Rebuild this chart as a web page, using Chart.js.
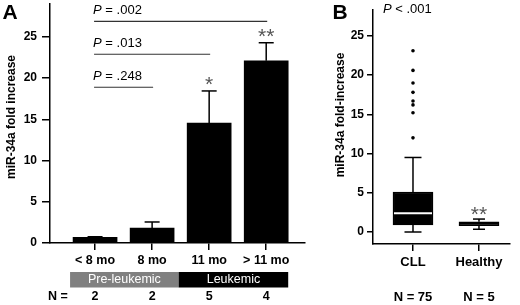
<!DOCTYPE html>
<html>
<head>
<meta charset="utf-8">
<script src="https://cdn.jsdelivr.net/npm/chart.js@4.4.1/dist/chart.umd.min.js"></script>
<style>
  body { margin: 0; background: #fff; width: 520px; height: 305px; overflow: hidden; position: relative; }
  canvas { position: absolute; top: 0; }
  #chartA { left: 0; }
  #chartB { left: 320px; }
</style>
</head>
<body>
<canvas id="chartA" width="320" height="305"></canvas>
<canvas id="chartB" width="200" height="305"></canvas>
<script>
// === Panel A data: miR-34a by age ===
const ageGroups = ["< 8 mo", "8 mo", "11 mo", "> 11 mo"];
const foldMean = [0.68, 1.82, 14.55, 22.1];
const foldErr = [0.08, 0.73, 3.9, 2.2];
const groupN = [2, 2, 5, 4];
const groupStars = ["", "", "*", "**"];
const stageLabels = ["Pre-leukemic", "Leukemic"];
const pCompareTo = [1, 2, 3];
const pValues = [".248", ".013", ".002"];
const pLineY = [18.9, 22.9, 26.9];
const yTicksA = [0, 5, 10, 15, 20, 25];

// === Panel B data: CLL vs healthy ===
const cohorts = ["CLL", "Healthy"];
const boxQ1 = [0.9, 0.8];
const boxMedian = [2.4, 1.05];
const boxQ3 = [5.1, 1.3];
const whiskerLow = [0, 0.35];
const whiskerHigh = [9.5, 1.65];
const cllOutliers = [23.1, 20.6, 19.0, 17.8, 16.7, 16.2, 15.2, 12.0];
const cohortN = [75, 5];
const cohortStars = ["", "**"];
const yTicksB = [0, 5, 10, 15, 20, 25];

const FONT = "'Liberation Sans', Arial, sans-serif";

// === small drawing helpers ===
function seg(ctx, x1, y1, x2, y2) {
  ctx.beginPath();
  ctx.moveTo(x1, y1);
  ctx.lineTo(x2, y2);
  ctx.stroke();
}

function txt(ctx, s, x, y, font, color, align) {
  ctx.font = font;
  ctx.fillStyle = color || "#000";
  ctx.textAlign = align || "center";
  ctx.textBaseline = "middle";
  ctx.fillText(s, x, y);
}

// asterisks sit high in the em box, so draw them from the baseline
function stars(ctx, s, x, yCenter) {
  ctx.font = "21px " + FONT;
  ctx.fillStyle = "#555";
  ctx.textAlign = "center";
  ctx.textBaseline = "alphabetic";
  ctx.fillText(s, x, yCenter + 12);
}

function vTitle(ctx, s, x, y) {
  ctx.save();
  ctx.translate(x, y);
  ctx.rotate(-Math.PI / 2);
  txt(ctx, s, 0, 0, "bold 12px " + FONT);
  ctx.restore();
}

function pLabel(ctx, op, val, x, y) {
  ctx.font = "italic 13px " + FONT;
  ctx.fillStyle = "#000";
  ctx.textAlign = "left";
  ctx.textBaseline = "middle";
  ctx.fillText("P", x, y);
  const w = ctx.measureText("P").width;
  ctx.font = "13px " + FONT;
  ctx.fillText(" " + op + " " + val, x + w, y);
}

function axisOpts(extra) {
  return Object.assign({
    offset: false,
    grid: { drawOnChartArea: false, offset: false, color: "#000", lineWidth: 1.5, tickLength: 7 },
    border: { color: "#000", width: 1.5 },
    ticks: { color: "#000", autoSkip: false, maxRotation: 0, padding: 4 },
  }, extra);
}

// === Panel A annotations ===
const panelA = {
  id: "panelA",
  afterDatasetsDraw(chart) {
    const ctx = chart.ctx, x = chart.scales.x, y = chart.scales.y;
    ctx.save();
    ctx.strokeStyle = "#000";
    ctx.lineWidth = 1.5;
    foldMean.forEach((m, i) => {
      const px = x.getPixelForValue(i);
      const top = y.getPixelForValue(m + foldErr[i]);
      seg(ctx, px, y.getPixelForValue(m), px, top);
      seg(ctx, px - 7.5, top, px + 7.5, top);
      if (groupStars[i]) stars(ctx, groupStars[i], px, top - 12);
    });

    // significance brackets
    ctx.lineWidth = 1.2;
    ctx.strokeStyle = "#333";
    pCompareTo.forEach((j, k) => {
      const ly = y.getPixelForValue(pLineY[k]);
      const x0 = x.getPixelForValue(0) - 1;
      seg(ctx, x0, ly, x.getPixelForValue(j) + 1, ly);
      pLabel(ctx, "=", pValues[k], x0 - 1, ly - 11);
    });

    // stage band below the axis
    const bLeft = x.getPixelForValue(0) - 25;
    const bMid = (x.getPixelForValue(1) + x.getPixelForValue(2)) / 2 - 2;
    const bRight = x.getPixelForValue(3) + 22;
    ctx.fillStyle = "#808080";
    ctx.fillRect(bLeft, 272, bMid - bLeft, 15.5);
    ctx.fillStyle = "#000";
    ctx.fillRect(bMid, 272, bRight - bMid, 15.5);
    txt(ctx, stageLabels[0], (bLeft + bMid) / 2, 280, "12.5px " + FONT, "#fff");
    txt(ctx, stageLabels[1], (bMid + bRight) / 2, 280, "12.5px " + FONT, "#fff");

    // N row
    txt(ctx, "N =", 58, 297, "bold 12.5px " + FONT);
    groupN.forEach((n, i) => txt(ctx, String(n), x.getPixelForValue(i), 297, "bold 12.5px " + FONT));

    txt(ctx, "A", 10, 13, "bold 21px " + FONT);
    vTitle(ctx, "miR-34a fold increase", 12, 117);
    ctx.restore();
  },
};

// === Panel B annotations ===
const panelB = {
  id: "panelB",
  afterDatasetsDraw(chart) {
    const ctx = chart.ctx, x = chart.scales.x, y = chart.scales.y;
    ctx.save();
    ctx.lineWidth = 1.5;
    cohorts.forEach((c, i) => {
      const px = x.getPixelForValue(i);
      const hi = y.getPixelForValue(whiskerHigh[i]);
      const lo = y.getPixelForValue(whiskerLow[i]);
      const cap = i === 0 ? 8.5 : 6;
      ctx.strokeStyle = "#000";
      seg(ctx, px, y.getPixelForValue(boxQ3[i]), px, hi);
      seg(ctx, px - cap, hi, px + cap, hi);
      seg(ctx, px, y.getPixelForValue(boxQ1[i]), px, lo);
      seg(ctx, px - cap, lo, px + cap, lo);
      // median
      ctx.strokeStyle = i === 0 ? "#fff" : "#000";
      ctx.lineWidth = 2;
      const my = y.getPixelForValue(boxMedian[i]);
      seg(ctx, px - 19, my, px + 19, my);
      ctx.lineWidth = 1.5;
      if (cohortStars[i]) stars(ctx, cohortStars[i], px, hi - 10);
      txt(ctx, "N = " + cohortN[i], px, 297, "bold 13px " + FONT);
    });
    pLabel(ctx, "<", ".001", 63, 9);
    txt(ctx, "B", 20, 13, "bold 21px " + FONT);
    vTitle(ctx, "miR-34a fold-increase", 21, 115);
    ctx.restore();
  },
};

// === Chart A ===
new Chart(document.getElementById("chartA"), {
  type: "bar",
  data: {
    datasets: [{
      data: ageGroups.map((g, i) => ({ x: i, y: foldMean[i] })),
      backgroundColor: "#000",
      barThickness: 44,
    }],
  },
  options: {
    responsive: false,
    animation: false,
    layout: { padding: { top: 4, right: 15, left: 0, bottom: 0 } },
    plugins: { legend: { display: false }, tooltip: { enabled: false } },
    scales: {
      x: axisOpts({
        type: "linear", min: -0.79, max: 3.68,
        ticks: { color: "#000", autoSkip: false, maxRotation: 0, padding: 3,
          font: { family: FONT, size: 12.5, weight: "bold" }, callback: (v) => ageGroups[v] },
        afterBuildTicks: (s) => { s.ticks = ageGroups.map((g, i) => ({ value: i })); },
        afterFit: (s) => { s.height = 62; s.paddingLeft = 0; s.paddingRight = 0; },
      }),
      y: axisOpts({
        min: 0, max: 29,
        grid: { drawOnChartArea: false, color: "#000", lineWidth: 1.5, tickLength: 8 },
        ticks: { color: "#000", padding: 5, font: { family: FONT, size: 12, weight: "bold" } },
        afterBuildTicks: (s) => { s.ticks = yTicksA.map((v) => ({ value: v })); },
        afterFit: (s) => { s.width = 50; s.paddingTop = 0; s.paddingBottom = 0; },
      }),
    },
  },
  plugins: [panelA],
});

// === Chart B ===
new Chart(document.getElementById("chartB"), {
  type: "bar",
  data: {
    datasets: [
      {
        data: cohorts.map((c, i) => ({ x: i, y: [boxQ1[i], boxQ3[i]] })),
        backgroundColor: ["#000", "#fff"],
        borderColor: "#000",
        borderWidth: 1.5,
        borderSkipped: false,
        barThickness: 40,
      },
      {
        type: "scatter",
        data: cllOutliers.map((v) => ({ x: 0, y: v })),
        backgroundColor: "#000",
        borderColor: "#000",
        pointRadius: 1.8,
        borderWidth: 0,
      },
    ],
  },
  options: {
    responsive: false,
    animation: false,
    layout: { padding: { top: 10, right: 10, left: 0, bottom: 0 } },
    plugins: { legend: { display: false }, tooltip: { enabled: false } },
    scales: {
      x: axisOpts({
        type: "linear", min: -0.606, max: 1.47,
        ticks: { color: "#000", autoSkip: false, maxRotation: 0, padding: 4,
          font: { family: FONT, size: 13, weight: "bold" }, callback: (v) => cohorts[v] },
        afterBuildTicks: (s) => { s.ticks = cohorts.map((c, i) => ({ value: i })); },
        afterFit: (s) => { s.height = 61; s.paddingLeft = 0; s.paddingRight = 0; },
      }),
      y: axisOpts({
        min: -1.53, max: 28.3,
        grid: { drawOnChartArea: false, color: "#000", lineWidth: 1.5, tickLength: 6 },
        ticks: { color: "#000", padding: 3, font: { family: FONT, size: 12, weight: "bold" } },
        afterBuildTicks: (s) => { s.ticks = yTicksB.map((v) => ({ value: v })); },
        afterFit: (s) => { s.width = 53; s.paddingTop = 0; s.paddingBottom = 0; },
      }),
    },
  },
  plugins: [panelB],
});
</script>
</body>
</html>
